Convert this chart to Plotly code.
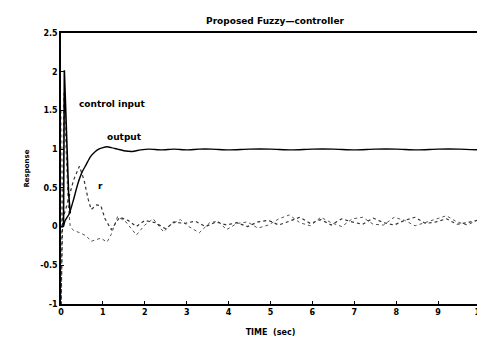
import plotly.graph_objects as go

# ---- data ----
out_t = [0.0, 0.05, 0.1, 0.2, 0.3, 0.4, 0.5, 0.6, 0.7, 0.8, 0.9, 1.0, 1.1, 1.2, 1.35, 1.5, 1.7,
         1.9, 2.1, 2.4, 2.7, 3.0, 3.3, 3.6, 4.0, 4.5, 5.0, 5.5, 6.0, 6.5, 7.0, 7.5, 8.0, 8.5,
         9.0, 9.5, 10.0]
out_y = [0.0, 0.0, 0.08, 0.17, 0.35, 0.55, 0.7, 0.8, 0.9, 0.96, 1.0, 1.02, 1.03, 1.02, 1.0,
         0.98, 0.97, 0.99, 1.0, 0.99, 1.0, 0.99, 1.0, 1.0, 0.99, 1.0, 1.0, 0.99, 1.0, 1.0, 0.99,
         1.0, 1.0, 0.99, 1.0, 1.0, 0.99]

spike_t = [0.06, 0.08, 0.18, 0.22]
spike_y = [0.0, 2.02, 0.45, 0.17]

ctrl_t = [0.0, 0.01, 0.03, 0.07, 0.12, 0.17, 0.22, 0.3, 0.45, 0.6, 0.72, 0.85, 0.95, 1.1,
          1.2, 1.35, 1.55, 1.8, 2.0, 2.2, 2.45, 2.6, 2.85, 3.05, 3.3, 3.55, 3.75, 3.95, 4.2,
          4.45, 4.7, 4.95, 5.2, 5.45, 5.7, 5.95, 6.2, 6.45, 6.7, 6.95, 7.2, 7.45, 7.7, 7.95,
          8.2, 8.45, 8.7, 8.95, 9.2, 9.45, 9.7, 10.0]
ctrl_y = [1.5, -1.0, 0.2, 1.72, 1.0, 0.3, 0.0, -0.05, -0.08, -0.12, -0.19, -0.17, -0.15,
          -0.2, -0.1, 0.13, 0.06, -0.11, 0.02, 0.1, -0.07, 0.02, 0.09, 0.0, -0.08, 0.05, 0.07,
          -0.04, 0.04, 0.06, -0.02, 0.02, 0.1, 0.15, 0.05, 0.01, 0.12, 0.05, 0.0, 0.1, 0.12,
          0.03, 0.02, 0.12, 0.08, 0.01, 0.05, 0.1, 0.14, 0.06, 0.02, 0.1]

r_t = [0.0, 0.04, 0.1, 0.2, 0.3, 0.44, 0.55, 0.65, 0.72, 0.85, 0.95, 1.05, 1.2, 1.4, 1.6,
       1.8, 2.0, 2.25, 2.5, 2.7, 2.95, 3.2, 3.45, 3.7, 3.95, 4.2, 4.45, 4.7, 4.95, 5.2, 5.45,
       5.7, 5.95, 6.2, 6.45, 6.7, 6.95, 7.2, 7.45, 7.7, 7.95, 8.2, 8.45, 8.7, 8.95, 9.2,
       9.45, 9.7, 10.0]
r_y = [-1.0, 0.1, 0.2, 0.4, 0.6, 0.78, 0.6, 0.35, 0.22, 0.28, 0.27, 0.1, -0.04, 0.12,
       0.08, 0.0, 0.08, 0.05, -0.03, 0.06, 0.04, 0.07, 0.0, 0.06, 0.02, 0.05, 0.0, 0.06,
       0.08, 0.02, 0.07, 0.12, 0.04, 0.09, 0.02, 0.1, 0.06, 0.03, 0.11, 0.05, 0.02, 0.08,
       0.12, 0.04, 0.06, 0.1, 0.03, 0.05, 0.09]

x_ticks = [0, 1, 2, 3, 4, 5, 6, 7, 8, 9, 10]
y_ticks = [-1, -0.5, 0, 0.5, 1, 1.5, 2, 2.5]
y_tick_labels = ["-1", "-0.5", "0", "0.5", "1", "1.5", "2", "2.5"]

labels = [("control input", 0.37, 1.58), ("output", 1.05, 1.16), ("r", 0.84, 0.52)]

FONT = "DejaVu Sans"

fig = go.Figure()
fig.add_trace(go.Scatter(x=ctrl_t, y=ctrl_y, mode="lines",
                         line=dict(color="#555", width=1, dash="dot"), showlegend=False))
fig.add_trace(go.Scatter(x=r_t, y=r_y, mode="lines",
                         line=dict(color="#333", width=1.2, dash="dot"), showlegend=False))
fig.add_trace(go.Scatter(x=out_t, y=out_y, mode="lines",
                         line=dict(color="black", width=1.4, shape="spline", smoothing=0.6),
                         showlegend=False))
fig.add_trace(go.Scatter(x=spike_t, y=spike_y, mode="lines",
                         line=dict(color="black", width=1.6), showlegend=False))

for txt, x, y in labels:
    fig.add_annotation(x=x, y=y, text=txt, showarrow=False, xanchor="left", yanchor="middle",
                       font=dict(family=FONT, size=9, color="black", weight="bold"))

fig.update_layout(
    width=485, height=338,
    margin=dict(l=53, r=7, t=25, b=42),
    paper_bgcolor="white", plot_bgcolor="white",
    title=dict(text="Proposed Fuzzy\u2014controller", x=267 / 485, xanchor="center",
               y=1 - 13 / 338, yanchor="middle",
               font=dict(family=FONT, size=9, color="black", weight="bold")),
    xaxis=dict(range=[0, 10], tickvals=x_ticks, ticks="inside", ticklen=3, tickcolor="black",
               showline=True, linecolor="black", linewidth=1.5, mirror=True, showgrid=False,
               zeroline=False,
               tickfont=dict(family=FONT, size=8, color="black", weight="bold"),
               title=dict(text="TIME  (sec)", standoff=13,
                          font=dict(family=FONT, size=8, color="black", weight="bold"))),
    yaxis=dict(range=[-1, 2.5], tickvals=y_ticks, ticktext=y_tick_labels, ticks="inside",
               ticklen=3, tickcolor="black",
               showline=True, linecolor="black", linewidth=1.5, mirror=True, showgrid=False,
               zeroline=False,
               tickfont=dict(family=FONT, size=8, color="black", weight="bold"),
               title=dict(text="Response", standoff=10,
                          font=dict(family=FONT, size=7, color="black", weight="bold"))),
)

fig.write_html("out.html")
